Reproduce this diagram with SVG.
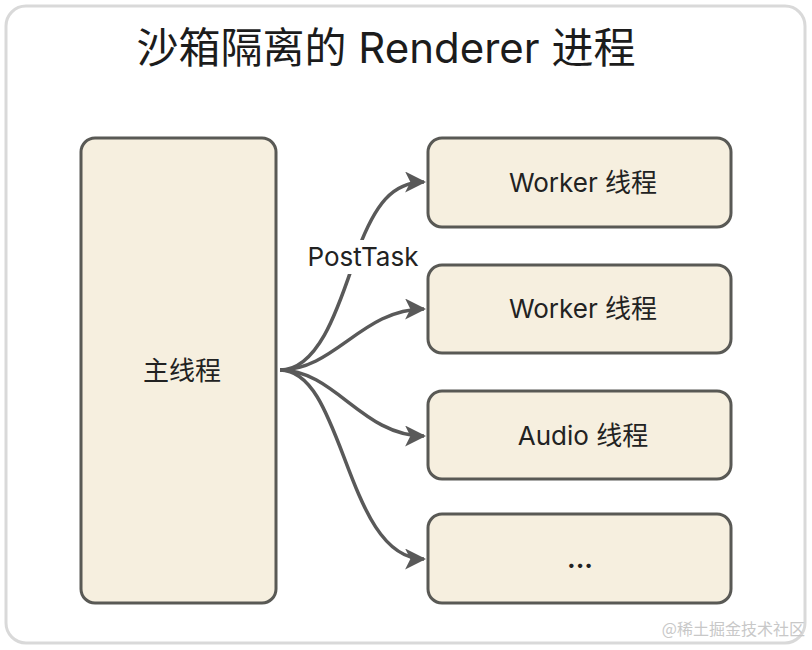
<svg xmlns="http://www.w3.org/2000/svg" width="812" height="650" viewBox="0 0 812 650">
<style>
.node{fill:#f6efdf;stroke:#595955;stroke-width:3}
.lbl{font-family:Inter,"Noto Sans CJK SC",sans-serif;font-size:26px;fill:#222;text-anchor:middle;dominant-baseline:central}
.edge{fill:none;stroke:#595959;stroke-width:3.5}
</style>
<defs>
<marker id="arr" viewBox="0 0 10 10" refX="9" refY="5" markerWidth="6" markerHeight="6" orient="auto" markerUnits="strokeWidth">
<path d="M0,0 L10,5 L0,10 L2.5,5 Z" fill="#595959"/>
</marker>
</defs>
<rect x="0" y="0" width="812" height="650" fill="#fff"/>
<rect x="6" y="6" width="799" height="637" rx="20" fill="#fff" stroke="#d9d9d9" stroke-width="3"/>
<text x="386" y="47" font-family="Inter,'Noto Sans CJK SC',sans-serif" font-size="42" fill="#1c1c1c" text-anchor="middle" dominant-baseline="central">沙箱隔离的 Renderer 进程</text>
<g id="edges">
<path class="edge" d="M280,370 C322,370 342,295 358,250 C375,205 392,182 424,182" marker-end="url(#arr)"/>
<path class="edge" d="M280,370 C335,370 362,309 424,309" marker-end="url(#arr)"/>
<path class="edge" d="M280,370 C335,370 362,436 424,436" marker-end="url(#arr)"/>
<path class="edge" d="M280,370 C345,370 345,559 424,559" marker-end="url(#arr)"/>
<rect x="302" y="240" width="122" height="34" fill="#fff"/>
<text class="lbl" x="363" y="256" font-size="24">PostTask</text>
</g>
<g id="main">
<rect class="node" x="81" y="138" width="195" height="465" rx="14"/>
<text class="lbl" x="182" y="370">主线程</text>
</g>
<g id="worker1">
<rect class="node" x="428" y="138" width="303" height="89" rx="14"/>
<text class="lbl" x="583" y="182">Worker 线程</text>
</g>
<g id="worker2">
<rect class="node" x="428" y="265" width="303" height="88" rx="14"/>
<text class="lbl" x="583" y="308">Worker 线程</text>
</g>
<g id="audio">
<rect class="node" x="428" y="391" width="303" height="88" rx="14"/>
<text class="lbl" x="583" y="435">Audio 线程</text>
</g>
<g id="more">
<rect class="node" x="428" y="514" width="303" height="89" rx="14"/>
<text class="lbl" x="580" y="558" font-weight="bold">...</text>
</g>
<text x="805" y="635" font-family="'Noto Sans CJK SC',sans-serif" font-size="16" fill="#c8c8c8" text-anchor="end">@稀土掘金技术社区</text>
</svg>
